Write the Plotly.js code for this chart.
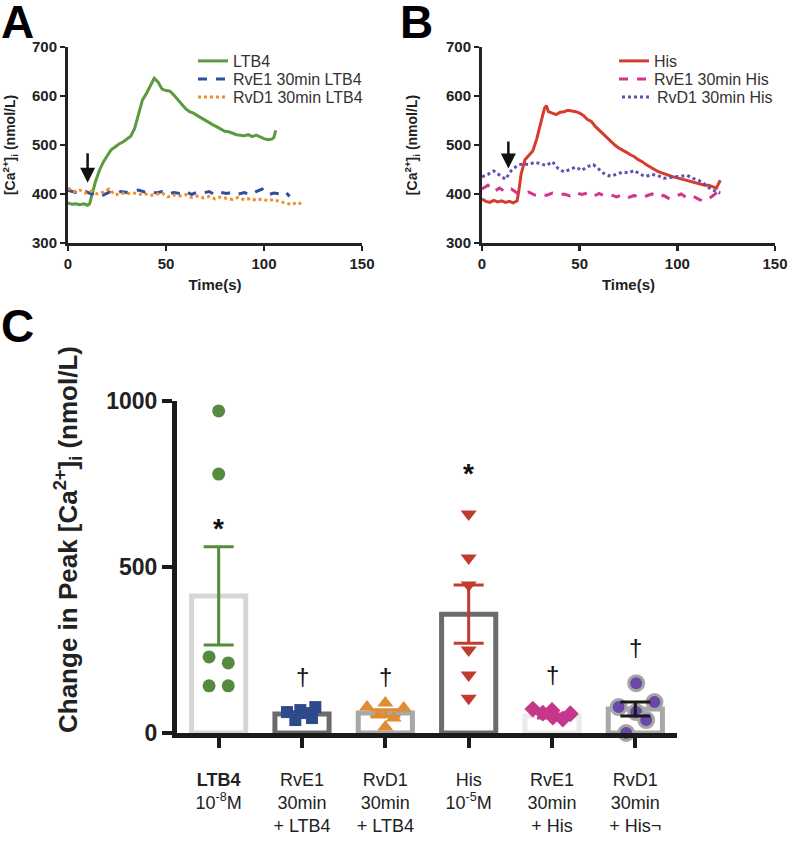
<!DOCTYPE html>
<html>
<head>
<meta charset="utf-8">
<script src="https://cdn.plot.ly/plotly-3.0.1.min.js"></script>
<style>html,body{margin:0;padding:0;background:#fff;}#chart{width:788px;height:842px;}</style>
</head>
<body>
<div id="chart"></div>
<script>
// ---------- Panel A data ----------
const tLTB4 = [0,2,4,6,8,10,11,12,14,16,18,20,22,24,26,28,30,32,34,36,38,40,42,44,46,48,50,52,54,56,58,60,62,64,66,68,70,72,74,76,78,80,82,84,86,88,90,92,94,96,98,100,102,104,105,106];
const caLTB4 = [382,379,380,378,380,377,380,395,425,448,465,478,490,496,502,506,512,518,534,562,592,605,620,636,628,614,611,610,602,592,584,574,568,565,560,555,550,545,541,537,532,528,527,524,521,520,519,521,517,520,516,513,511,512,515,530];
const tRvE1LTB4 = [0,3,6,9,12,15,18,21,24,27,30,33,36,39,42,45,48,51,54,57,60,63,66,69,72,75,78,81,84,87,90,93,96,99,102,105,108,111,113];
const caRvE1LTB4 = [408,404,402,405,400,403,398,404,401,405,403,406,408,404,407,402,405,400,403,401,406,399,404,402,405,398,403,401,404,400,403,398,405,410,398,402,400,405,395];
const tRvD1LTB4 = [0,3,6,9,12,15,18,21,24,27,30,33,36,39,42,45,48,51,54,57,60,63,66,69,72,75,78,81,84,87,90,93,96,99,102,105,108,111,114,117,119];
const caRvD1LTB4 = [412,405,408,402,406,400,404,410,398,402,400,403,399,401,397,400,402,394,398,396,399,393,396,392,395,390,394,391,389,393,388,391,387,390,386,389,384,382,378,383,380];

// ---------- Panel B data ----------
const tHis = [0,2,4,6,8,10,12,14,16,18,19,20,22,24,26,28,30,32,33,34,36,38,40,42,44,46,48,50,52,54,56,58,60,62,64,66,68,70,72,74,76,78,80,82,84,86,88,90,92,94,96,98,100,102,104,106,108,110,112,114,116,118,120,121,122];
const caHis = [390,385,383,387,384,386,383,385,382,386,410,440,470,480,488,512,545,575,580,568,565,562,567,568,571,570,568,565,560,552,548,538,530,522,515,506,500,494,490,485,480,476,470,466,460,455,450,446,443,440,437,435,433,431,429,427,424,422,420,418,418,415,412,420,428];
const tRvE1His = [0,3,6,9,12,15,18,21,24,27,30,33,36,39,42,45,48,51,54,57,60,63,66,69,72,75,78,81,84,87,90,93,96,99,102,105,108,111,114,117,120,122];
const caRvE1His = [410,418,405,412,404,410,402,400,404,398,401,397,402,398,400,396,403,399,402,395,401,396,398,394,399,393,397,392,396,400,393,397,390,395,400,392,396,389,385,393,402,405];
const tRvD1His = [0,3,6,9,12,15,18,21,24,27,30,33,36,39,42,45,48,51,54,57,60,63,66,69,72,75,78,81,84,87,90,93,96,99,102,105,108,111,114,117,120,122];
const caRvD1His = [435,440,447,438,430,448,458,462,460,465,462,458,466,452,445,450,455,448,456,460,450,440,436,440,445,443,448,440,436,440,438,432,434,435,436,438,432,428,420,410,405,402];

// ---------- Panel C data ----------
const groupLabels = [
  "<b>LTB4</b><br>10<sup>-8</sup>M",
  "RvE1<br>30min<br>+ LTB4",
  "RvD1<br>30min<br>+ LTB4",
  "His<br>10<sup>-5</sup>M",
  "RvE1<br>30min<br>+ His",
  "RvD1<br>30min<br>+ His¬"
];
const groupMeans = [413, 57, 60, 358, 51, 72];
const groupSEM = [148, 7, 10, 88, 6, 21];
const ptsLTB4 = [970, 780, 229, 211, 142, 142];
const ptsRvE1LTB4 = [78, 63, 69, 39, 45, 60];
const ptsRvD1LTB4 = [78, 90, 75, 54, 45, 18];
const ptsHis = [660, 527, 446, 250, 175, 105];
const ptsRvE1His = [72, 60, 48, 42, 58, 68];
const ptsRvD1His = [150, 78, 93, 63, 39, 0];
const sigMarks = ["*", "†", "†", "*", "†", "†"];
const sigLevels = [617, 170, 170, 783, 175, 259];

// ---------- styling (not data) ----------
const jitter = [
  [0, 0, -0.115, 0.115, -0.115, 0.115],
  [0.16, -0.18, -0.02, -0.08, 0.12, 0.06],
  [-0.22, 0, 0.22, -0.08, 0.1, 0],
  [0, 0, 0, 0, 0, 0],
  [-0.23, -0.11, 0.01, 0.13, 0.22, 0.0],
  [0.01, -0.2, 0.23, 0.01, 0.13, -0.11]
];
const F = "Arial, 'Liberation Sans', sans-serif";
const ptsAll = [ptsLTB4, ptsRvE1LTB4, ptsRvD1LTB4, ptsHis, ptsRvE1His, ptsRvD1His];
const ptStyle = [
  {symbol:'circle', size:13, color:'#558b3c'},
  {symbol:'square', size:12, color:'#2d4a8a'},
  {symbol:'triangle-up', size:14, color:'#e08c32'},
  {symbol:'triangle-down', size:14, color:'#c23b30'},
  {symbol:'diamond', size:13, color:'#c6368a'},
  {symbol:'circle', size:15, color:'#6a48a6', line:{color:'#a6a6a6', width:3}}
];
const errColors = ['#558b3c', '#2d4a8a', '#e08c32', '#c23b30', '#c6368a', '#1a1a1a'];
const barLine = ['#d6d6d6', '#6b6b6b', '#a8a8a8', '#6b6b6b', '#ebebeb', '#a8a8a8'];

const traces = [];
// Panel A
traces.push({x:tLTB4, y:caLTB4, type:'scatter', mode:'lines', name:'LTB4', line:{color:'#5b9a3e', width:3}, xaxis:'x', yaxis:'y', legend:'legend'});
traces.push({x:tRvE1LTB4, y:caRvE1LTB4, type:'scatter', mode:'lines', name:'RvE1 30min LTB4', line:{color:'#2c4f9e', width:3, dash:'dash'}, xaxis:'x', yaxis:'y', legend:'legend2'});
traces.push({x:tRvD1LTB4, y:caRvD1LTB4, type:'scatter', mode:'lines', name:'RvD1 30min LTB4', line:{color:'#ef8f2c', width:3, dash:'dot'}, xaxis:'x', yaxis:'y', legend:'legend3'});
// Panel B
traces.push({x:tHis, y:caHis, type:'scatter', mode:'lines', name:'His', line:{color:'#d63b2b', width:3}, xaxis:'x2', yaxis:'y2', legend:'legend4'});
traces.push({x:tRvE1His, y:caRvE1His, type:'scatter', mode:'lines', name:'RvE1 30min His', line:{color:'#d6348c', width:3, dash:'dash'}, xaxis:'x2', yaxis:'y2', legend:'legend5'});
traces.push({x:tRvD1His, y:caRvD1His, type:'scatter', mode:'lines', name:'RvD1 30min His', line:{color:'#6a4db2', width:3, dash:'dot'}, xaxis:'x2', yaxis:'y2', legend:'legend6'});
// Panel C bars
traces.push({x:[0,1,2,3,4,5], y:groupMeans, type:'bar', width:0.65, showlegend:false,
  marker:{color:'rgba(255,255,255,0)', line:{color:barLine, width:5}}, xaxis:'x3', yaxis:'y3', hoverinfo:'skip'});
// Panel C points
ptsAll.forEach((p, i) => {
  traces.push({x:p.map((v, k) => i + jitter[i][k]), y:p, type:'scatter', mode:'markers', showlegend:false,
    cliponaxis:false, marker:Object.assign({line:{width:0}}, ptStyle[i]), xaxis:'x3', yaxis:'y3'});
});
// Panel C error bars
groupMeans.forEach((m, i) => {
  traces.push({x:[i], y:[m], type:'scatter', mode:'markers', showlegend:false, cliponaxis:false,
    marker:{size:1, color:'rgba(0,0,0,0)'},
    error_y:{type:'data', array:[groupSEM[i]], color:errColors[i], thickness:3, width:15},
    xaxis:'x3', yaxis:'y3', hoverinfo:'skip'});
});

const H = 842, W = 788;
const px = v => v / W, py = v => 1 - v / H;

const smallAxis = {
  showline:true, linecolor:'#222', linewidth:3, ticks:'outside', ticklen:5, tickwidth:2.5, tickcolor:'#222',
  showgrid:false, zeroline:false, tickfont:{family:F, size:15, color:'#222', weight:'bold'}
};
const ySmallTitle = {text:'[Ca<sup>2+</sup>]<sub>i</sub> (nmol/L)', font:{family:F, size:14, color:'#222', weight:'bold'}, standoff:26};
const xSmallTitle = {text:'Time(s)', font:{family:F, size:15, color:'#222', weight:'bold'}, standoff:9};

const annotations = [
  {text:'<b>A</b>', x:px(-1), y:py(22), xref:'paper', yref:'paper', xanchor:'left', yanchor:'middle', showarrow:false, font:{family:F, size:46, color:'#000'}},
  {text:'<b>B</b>', x:px(398), y:py(22), xref:'paper', yref:'paper', xanchor:'left', yanchor:'middle', showarrow:false, font:{family:F, size:46, color:'#000'}},
  {text:'<b>C</b>', x:px(-1), y:py(326), xref:'paper', yref:'paper', xanchor:'left', yanchor:'middle', showarrow:false, font:{family:F, size:46, color:'#000'}},
  {text:'<b>Change in Peak [Ca<sup>2+</sup>]<sub>i</sub> (nmol/L)</b>', x:px(68), y:py(540), xref:'paper', yref:'paper', xanchor:'center', yanchor:'middle', textangle:-90, showarrow:false, font:{family:F, size:26, color:'#222'}},
  {x:10, y:423, ax:10, ay:486, xref:'x', yref:'y', axref:'x', ayref:'y', showarrow:true, arrowhead:2, arrowsize:1.2, arrowwidth:2.5, arrowcolor:'#111', text:''},
  {x:13.5, y:452, ax:13.5, ay:510, xref:'x2', yref:'y2', axref:'x2', ayref:'y2', showarrow:true, arrowhead:2, arrowsize:1.2, arrowwidth:2.5, arrowcolor:'#111', text:''}
];
sigMarks.forEach((s, i) => {
  annotations.push({text: s === '*' ? '<b>*</b>' : s, x:i, y:sigLevels[i], xref:'x3', yref:'y3', showarrow:false,
    font:{family:F, size: s === '*' ? 28 : 24, color:'#111'}, yanchor:'middle'});
});

const legendBase = {xanchor:'left', yanchor:'middle', bgcolor:'rgba(0,0,0,0)', font:{family:F, size:16, color:'#333'}, itemwidth:30};
const leg = (x, y) => Object.assign({}, legendBase, {x:px(x), y:py(y)});

const layout = {
  width:W, height:H, margin:{l:0, r:0, t:0, b:0}, paper_bgcolor:'#fff', plot_bgcolor:'#fff',
  font:{family:F, color:'#222'},
  xaxis: Object.assign({}, smallAxis, {domain:[px(68), px(362)], range:[0,150], tickvals:[0,50,100,150], anchor:'y', title:xSmallTitle}),
  yaxis: Object.assign({}, smallAxis, {domain:[py(243), py(47)], range:[300,700], tickvals:[300,400,500,600,700], anchor:'x', title:ySmallTitle}),
  xaxis2: Object.assign({}, smallAxis, {domain:[px(482), px(775)], range:[0,150], tickvals:[0,50,100,150], anchor:'y2', title:xSmallTitle}),
  yaxis2: Object.assign({}, smallAxis, {domain:[py(243), py(47)], range:[300,700], tickvals:[300,400,500,600,700], anchor:'x2', title:ySmallTitle}),
  xaxis3: {domain:[px(177), px(677)], range:[-0.5,5.5], anchor:'y3', tickvals:[0,1,2,3,4,5], ticktext:groupLabels,
    showline:true, linecolor:'#1a1a1a', linewidth:5, ticks:'outside', ticklen:10, tickwidth:4, tickcolor:'#1a1a1a',
    ticklabelstandoff:16,
    showgrid:false, zeroline:false, tickfont:{family:F, size:18, color:'#222'}},
  yaxis3: {domain:[py(733), py(401)], range:[0,1000], anchor:'x3', tickvals:[0,500,1000],
    showline:true, linecolor:'#1a1a1a', linewidth:5, ticks:'outside', ticklen:10, tickwidth:4, tickcolor:'#1a1a1a',
    showgrid:false, zeroline:false, tickfont:{family:F, size:23, color:'#222', weight:'bold'}},
  legend: leg(193, 61),
  legend2: leg(193, 79),
  legend3: leg(193, 97),
  legend4: leg(614, 61),
  legend5: leg(614, 79),
  legend6: leg(617, 97),
  annotations: annotations,
  bargap:0.3
};

Plotly.newPlot('chart', traces, layout, {displayModeBar:false, staticPlot:true});
</script>
</body>
</html>
